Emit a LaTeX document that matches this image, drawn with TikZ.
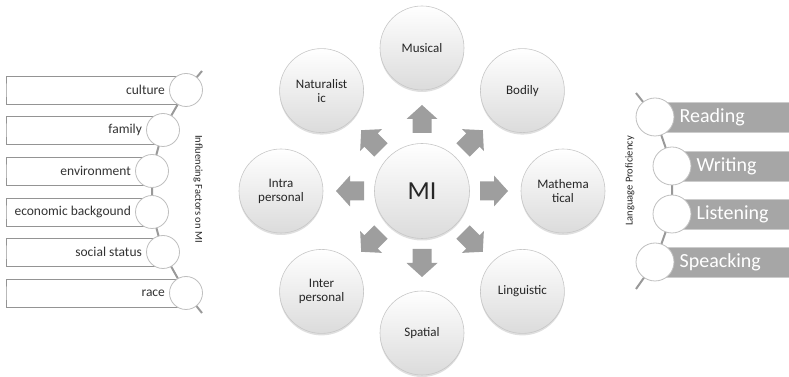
\documentclass[tikz,border=0pt]{standalone}
\usepackage{fontspec}
\setmainfont{Carlito}
\usetikzlibrary{calc,shadows}

\tikzset{
    bubble/.style={circle, draw=black!22, line width=0.6pt, top color=white, bottom color=black!14,
        minimum size=84pt, inner sep=1pt, align=center, text=black!85,
        font=\fontsize{13}{14}\selectfont,
        drop shadow={shadow xshift=0pt, shadow yshift=-2pt, opacity=0.25}},
    hub/.style={bubble, minimum size=95pt, font=\fontsize{26}{28}\selectfont},
    blockarrow/.style={fill=black!38},
    chain/.style={draw=black!40, line width=2pt},
    ring/.style={circle, draw=black!25, fill=white, line width=0.8pt, minimum size=33pt, inner sep=0pt},
    bigring/.style={ring, minimum size=38pt},
    factorbox/.style={draw=black!42, fill=white, line width=0.6pt},
    factortext/.style={anchor=east, inner sep=4pt, text=black!80, font=\fontsize{13.5}{15}\selectfont},
    skillbar/.style={fill=black!35, draw=black!20, line width=0.6pt},
    skilltext/.style={anchor=west, inner sep=5pt, text=white, font=\fontsize{20}{22}\selectfont},
    sidelabel/.style={text=black!85, font=\fontsize{10.5}{11}\selectfont}
}

\begin{document}
\begin{tikzpicture}[x=1pt,y=1pt]
                \useasboundingbox (0,0) rectangle (789,377);

                % multiple intelligences
                \node[hub] (mi) at (422,186) {MI};
                \node[bubble] (musical) at ($(mi)+(90:143)$) {Musical};
                \node[bubble] (bodily) at ($(mi)+(45:142)$) {Bodily};
                \node[bubble] (math) at ($(mi)+(0:141)$) {Mathema\\tical};
                \node[bubble] (ling) at ($(mi)+(-45:142)$) {Linguistic};
                \node[bubble] (spatial) at ($(mi)+(-90:142)$) {Spatial};
                \node[bubble] (inter) at ($(mi)+(-135:142)$) {Inter\\personal};
                \node[bubble] (intra) at ($(mi)+(180:141)$) {Intra\\personal};
                \node[bubble] (natur) at ($(mi)+(135:142)$) {Naturalist\\ic};

                \foreach \a in {0,45,...,315}
                    \fill[blockarrow, shift={(mi.center)}, rotate=\a]
                        (58,-9.5) -- (72,-9.5) -- (72,-15.5) -- (86,0) -- (72,15.5) -- (72,9.5) -- (58,9.5) -- cycle;

                % influencing factors
                \coordinate (ftop) at (202,306);
                \coordinate (f1) at (186,287);
                \coordinate (f2) at (163,247);
                \coordinate (f3) at (152,206);
                \coordinate (f4) at (152,165);
                \coordinate (f5) at (163,125);
                \coordinate (f6) at (186,84);
                \coordinate (fbot) at (202,64);
                \draw[chain] (ftop) -- (f1) -- (f2) -- (f3) -- (f4) -- (f5) -- (f6) -- (fbot);

                \foreach \i/\t in {1/culture,2/family,3/environment,4/economic backgound,5/social status,6/race} {
                    \draw[factorbox] ($(f\i)+(0,14)$) -| (6,0 |- f\i) |- ($(f\i)+(0,-14)$);
                    \node[ring] (fc\i) at (f\i) {};
                    \node[factortext] (ft\i) at (fc\i.west) {\t};
                }
                \node[sidelabel, rotate=-90] (factors) at (198,188) {Influencing Factors on MI};

                % language skills
                \coordinate (stop) at (636,284);
                \coordinate (s1) at (655,260);
                \coordinate (s2) at (672,211);
                \coordinate (s3) at (672,163);
                \coordinate (s4) at (655,115);
                \coordinate (sbot) at (636,88);
                \draw[chain] (stop) -- (s1) -- (s2) -- (s3) -- (s4) -- (sbot);

                \foreach \i/\t in {1/Reading,2/Writing,3/Listening,4/Speacking} {
                    \fill[skillbar] ($(s\i)+(0,-15)$) rectangle (789,0 |- {$(s\i)+(0,15)$});
                    \node[bigring] (sc\i) at (s\i) {};
                    \node[skilltext] (st\i) at (sc\i.east) {\t};
                }
                \node[sidelabel, rotate=90] (lang) at (630,196) {Language Proficiency};
            \end{tikzpicture}
\end{document}
